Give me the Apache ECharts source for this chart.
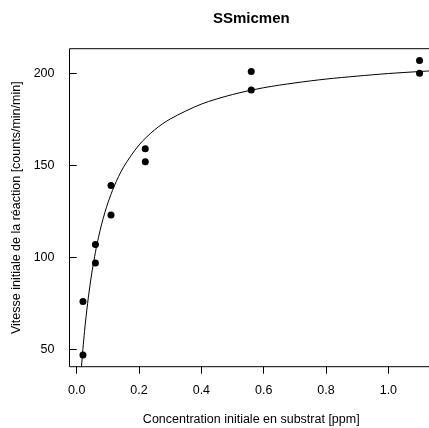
<!DOCTYPE html>
<html><head><meta charset="utf-8">
<script src="https://cdn.jsdelivr.net/npm/echarts@6/dist/echarts.min.js"></script>
<style>html,body{margin:0;padding:0;background:#fff}#c{width:429px;height:428px}</style>
</head><body><div id="c"></div>
<script>
// observed points
const concentrations = [0.02, 0.02, 0.06, 0.06, 0.11, 0.11, 0.22, 0.22, 0.56, 0.56, 1.10, 1.10];
const rates = [76, 47, 97, 107, 123, 139, 159, 152, 191, 201, 207, 200];
// fitted curve
const curveX = [0.01, 0.015, 0.02, 0.025, 0.03, 0.035, 0.04, 0.045, 0.05, 0.06, 0.07, 0.08, 0.09, 0.10, 0.12, 0.15, 0.2, 0.25, 0.3, 0.4, 0.5, 0.6, 0.7, 0.8, 0.9, 1.0, 1.1, 1.15];
const curveY = [28.7, 40.3, 50.6, 59.7, 67.8, 75.1, 81.7, 87.7, 93.2, 102.8, 111.0, 118.1, 124.2, 129.6, 138.6, 149.0, 161.1, 169.3, 175.2, 183.3, 188.5, 192.2, 194.8, 196.9, 198.5, 199.9, 201.0, 201.5];
const xTicks = [0.0, 0.2, 0.4, 0.6, 0.8, 1.0];
const yTicks = [50, 100, 150, 200];

const font = 'Liberation Sans, Arial, sans-serif';
const chart = echarts.init(document.getElementById('c'));
chart.setOption({
  animation: false,
  title: {text: 'SSmicmen', left: 213, top: 11, padding: 0,
    textStyle: {fontFamily: font, fontSize: 15, fontWeight: 'bold', color: '#000'}},
  grid: {left: 69.5, top: 48.7, width: 363.5, height: 318, show: true, borderColor: '#000', borderWidth: 1,
    containLabel: false, outerBoundsMode: 'none'},
  xAxis: {type: 'value', min: -0.0232, max: 1.1432,
    name: 'Concentration initiale en substrat [ppm]', nameLocation: 'middle', nameGap: 46,
    nameTextStyle: {fontFamily: font, fontSize: 12.5, color: '#000'},
    axisLine: {show: false}, splitLine: {show: false},
    axisTick: {show: true, inside: false, length: 7, customValues: xTicks, lineStyle: {color: '#000'}},
    axisLabel: {customValues: xTicks, margin: 17, formatter: v => v.toFixed(1), fontFamily: font, fontSize: 12.5, color: '#000'}},
  yAxis: {type: 'value', min: 40.6, max: 213.4,
    name: 'Vitesse initiale de la réaction [counts/min/min]', nameLocation: 'middle', nameGap: 43,
    nameTextStyle: {fontFamily: font, fontSize: 12.5, color: '#000'},
    axisLine: {show: false}, splitLine: {show: false},
    axisTick: {show: true, inside: false, length: 7, customValues: yTicks, lineStyle: {color: '#000'}},
    axisLabel: {customValues: yTicks, margin: 15, fontFamily: font, fontSize: 12.5, color: '#000'}},
  series: [
    {type: 'line', data: curveX.map((x, i) => [x, curveY[i]]), showSymbol: false, smooth: 0.3, clip: true,
      lineStyle: {color: '#000', width: 1}},
    {type: 'scatter', data: concentrations.map((x, i) => [x, rates[i]]), symbol: 'circle', symbolSize: 7,
      itemStyle: {color: '#000', opacity: 1}}
  ]
});
</script></body></html>
